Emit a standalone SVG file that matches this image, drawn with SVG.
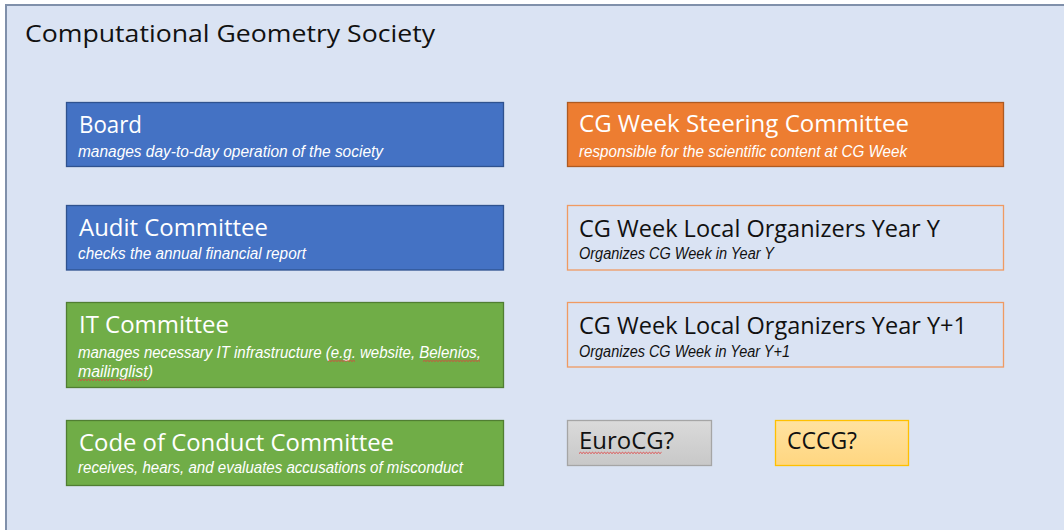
<svg xmlns="http://www.w3.org/2000/svg" width="1064" height="530" viewBox="0 0 1064 530">
  <defs>
    <style>
      .frame { fill: #dae3f3; stroke: #8090aa; stroke-width: 2; }
      .t { font-family: "Open Sans", "Liberation Sans", sans-serif; font-size: 24.5px; }
      .s { font-family: "Liberation Sans", Arial, sans-serif; font-size: 16px; font-style: italic; }
      .w { fill: #ffffff; }
      .k { fill: #111111; }
      .blue { fill: #4472c4; stroke: #2f528f; stroke-width: 1.3; }
      .orange { fill: #ed7d31; stroke: #ae5a21; stroke-width: 1.3; }
      .outline { fill: #dae3f3; stroke: #f09a62; stroke-width: 1.3; }
      .green { fill: #70ad47; stroke: #507e32; stroke-width: 1.3; }
      .gray { fill: url(#gGray); stroke: #a5a5a5; stroke-width: 1.3; }
      .gold { fill: url(#gGold); stroke: #ffc000; stroke-width: 1.3; }
      .squig { fill: none; stroke: #e04040; stroke-width: 0.9; }
    </style>
    <linearGradient id="gGray" x1="0" y1="0" x2="0" y2="1">
      <stop offset="0" stop-color="#dadada"/>
      <stop offset="1" stop-color="#c8c8c8"/>
    </linearGradient>
    <linearGradient id="gGold" x1="0" y1="0" x2="0" y2="1">
      <stop offset="0" stop-color="#ffe2a0"/>
      <stop offset="1" stop-color="#ffd680"/>
    </linearGradient>
  </defs>

  <rect x="0" y="0" width="1064" height="530" fill="#ffffff"/>
  <g id="society">
    <rect class="frame" x="6" y="5" width="1070" height="540"/>
    <text class="t k" x="25" y="42" font-size="25" textLength="410" lengthAdjust="spacingAndGlyphs">Computational Geometry Society</text>
  </g>

  <g id="board">
    <rect class="blue" x="66.5" y="102.5" width="437" height="64"/>
    <text class="t w" x="79" y="133" textLength="63" lengthAdjust="spacingAndGlyphs">Board</text>
    <text class="s w" x="78" y="157" textLength="305" lengthAdjust="spacingAndGlyphs">manages day-to-day operation of the society</text>
  </g>

  <g id="audit">
    <rect class="blue" x="66.5" y="205.5" width="437" height="64.5"/>
    <text class="t w" x="79" y="236" textLength="189" lengthAdjust="spacingAndGlyphs">Audit Committee</text>
    <text class="s w" x="78" y="259" textLength="228" lengthAdjust="spacingAndGlyphs">checks the annual financial report</text>
  </g>

  <g id="it">
    <rect class="green" x="66.5" y="302.5" width="437" height="85"/>
    <text class="t w" x="79" y="333" textLength="150" lengthAdjust="spacingAndGlyphs">IT Committee</text>
    <text class="s w" x="78" y="357.5" textLength="403" lengthAdjust="spacingAndGlyphs">manages necessary IT infrastructure (e.g. website, Belenios,</text>
    <text class="s w" x="78" y="376.5" textLength="75" lengthAdjust="spacingAndGlyphs">mailinglist)</text>
    <path class="squig" d="M328 361.5 l1.5 -1.2 l1.5 1.2 l1.5 -1.2 l1.5 1.2 l1.5 -1.2 l1.5 1.2 l1.5 -1.2 l1.5 1.2 l1.5 -1.2 l1.5 1.2 l1.5 -1.2 l1.5 1.2 l1.5 -1.2 l1.5 1.2 l1.5 -1.2 l1.5 1.2 l1.5 -1.2 l1.5 1.2"/>
    <path class="squig" d="M423 361.5 l1.5 -1.2 l1.5 1.2 l1.5 -1.2 l1.5 1.2 l1.5 -1.2 l1.5 1.2 l1.5 -1.2 l1.5 1.2 l1.5 -1.2 l1.5 1.2 l1.5 -1.2 l1.5 1.2 l1.5 -1.2 l1.5 1.2 l1.5 -1.2 l1.5 1.2 l1.5 -1.2 l1.5 1.2 l1.5 -1.2 l1.5 1.2 l1.5 -1.2 l1.5 1.2 l1.5 -1.2 l1.5 1.2 l1.5 -1.2 l1.5 1.2 l1.5 -1.2 l1.5 1.2 l1.5 -1.2 l1.5 1.2 l1.5 -1.2 l1.5 1.2 l1.5 -1.2 l1.5 1.2 l1.5 -1.2 l1.5 1.2 l1.5 -1.2 l1.5 1.2"/>
    <path class="squig" d="M78 380.5 l1.5 -1.2 l1.5 1.2 l1.5 -1.2 l1.5 1.2 l1.5 -1.2 l1.5 1.2 l1.5 -1.2 l1.5 1.2 l1.5 -1.2 l1.5 1.2 l1.5 -1.2 l1.5 1.2 l1.5 -1.2 l1.5 1.2 l1.5 -1.2 l1.5 1.2 l1.5 -1.2 l1.5 1.2 l1.5 -1.2 l1.5 1.2 l1.5 -1.2 l1.5 1.2 l1.5 -1.2 l1.5 1.2 l1.5 -1.2 l1.5 1.2 l1.5 -1.2 l1.5 1.2 l1.5 -1.2 l1.5 1.2 l1.5 -1.2 l1.5 1.2 l1.5 -1.2 l1.5 1.2 l1.5 -1.2 l1.5 1.2 l1.5 -1.2 l1.5 1.2 l1.5 -1.2 l1.5 1.2 l1.5 -1.2 l1.5 1.2 l1.5 -1.2 l1.5 1.2 l1.5 -1.2 l1.5 1.2"/>
  </g>

  <g id="conduct">
    <rect class="green" x="66.5" y="420.5" width="437" height="65"/>
    <text class="t w" x="79" y="450.5" textLength="315" lengthAdjust="spacingAndGlyphs">Code of Conduct Committee</text>
    <text class="s w" x="78" y="473" textLength="385" lengthAdjust="spacingAndGlyphs">receives, hears, and evaluates accusations of misconduct</text>
  </g>

  <g id="steering">
    <rect class="orange" x="567.5" y="102.5" width="436" height="64"/>
    <text class="t w" x="579" y="132" textLength="330" lengthAdjust="spacingAndGlyphs">CG Week Steering Committee</text>
    <text class="s w" x="579" y="157" textLength="328" lengthAdjust="spacingAndGlyphs">responsible for the scientific content at CG Week</text>
  </g>

  <g id="local-y">
    <rect class="outline" x="567.5" y="205.5" width="436" height="64.5"/>
    <text class="t k" x="579" y="236.5" textLength="361" lengthAdjust="spacingAndGlyphs">CG Week Local Organizers Year Y</text>
    <text class="s k" x="579" y="259" textLength="195" lengthAdjust="spacingAndGlyphs">Organizes CG Week in Year Y</text>
  </g>

  <g id="local-y1">
    <rect class="outline" x="567.5" y="302.5" width="436" height="64.5"/>
    <text class="t k" x="579" y="334" textLength="388" lengthAdjust="spacingAndGlyphs">CG Week Local Organizers Year Y+1</text>
    <text class="s k" x="579" y="357" textLength="211" lengthAdjust="spacingAndGlyphs">Organizes CG Week in Year Y+1</text>
  </g>

  <g id="eurocg">
    <rect class="gray" x="567.5" y="420.5" width="144" height="45"/>
    <text class="t k" x="579" y="449" font-size="19.5" textLength="95" lengthAdjust="spacingAndGlyphs">EuroCG?</text>
    <path class="squig" d="M579 453.5 l1.5 -1.2 l1.5 1.2 l1.5 -1.2 l1.5 1.2 l1.5 -1.2 l1.5 1.2 l1.5 -1.2 l1.5 1.2 l1.5 -1.2 l1.5 1.2 l1.5 -1.2 l1.5 1.2 l1.5 -1.2 l1.5 1.2 l1.5 -1.2 l1.5 1.2 l1.5 -1.2 l1.5 1.2 l1.5 -1.2 l1.5 1.2 l1.5 -1.2 l1.5 1.2 l1.5 -1.2 l1.5 1.2 l1.5 -1.2 l1.5 1.2 l1.5 -1.2 l1.5 1.2 l1.5 -1.2 l1.5 1.2 l1.5 -1.2 l1.5 1.2 l1.5 -1.2 l1.5 1.2 l1.5 -1.2 l1.5 1.2 l1.5 -1.2 l1.5 1.2 l1.5 -1.2 l1.5 1.2 l1.5 -1.2 l1.5 1.2 l1.5 -1.2 l1.5 1.2 l1.5 -1.2 l1.5 1.2 l1.5 -1.2 l1.5 1.2 l1.5 -1.2 l1.5 1.2 l1.5 -1.2 l1.5 1.2 l1.5 -1.2 l1.5 1.2 l1.5 -1.2"/>
  </g>

  <g id="cccg">
    <rect class="gold" x="775.5" y="420.5" width="133" height="45"/>
    <text class="t k" x="787" y="449" font-size="19.5" textLength="70" lengthAdjust="spacingAndGlyphs">CCCG?</text>
  </g>

  <g id="connectors"></g>
</svg>
